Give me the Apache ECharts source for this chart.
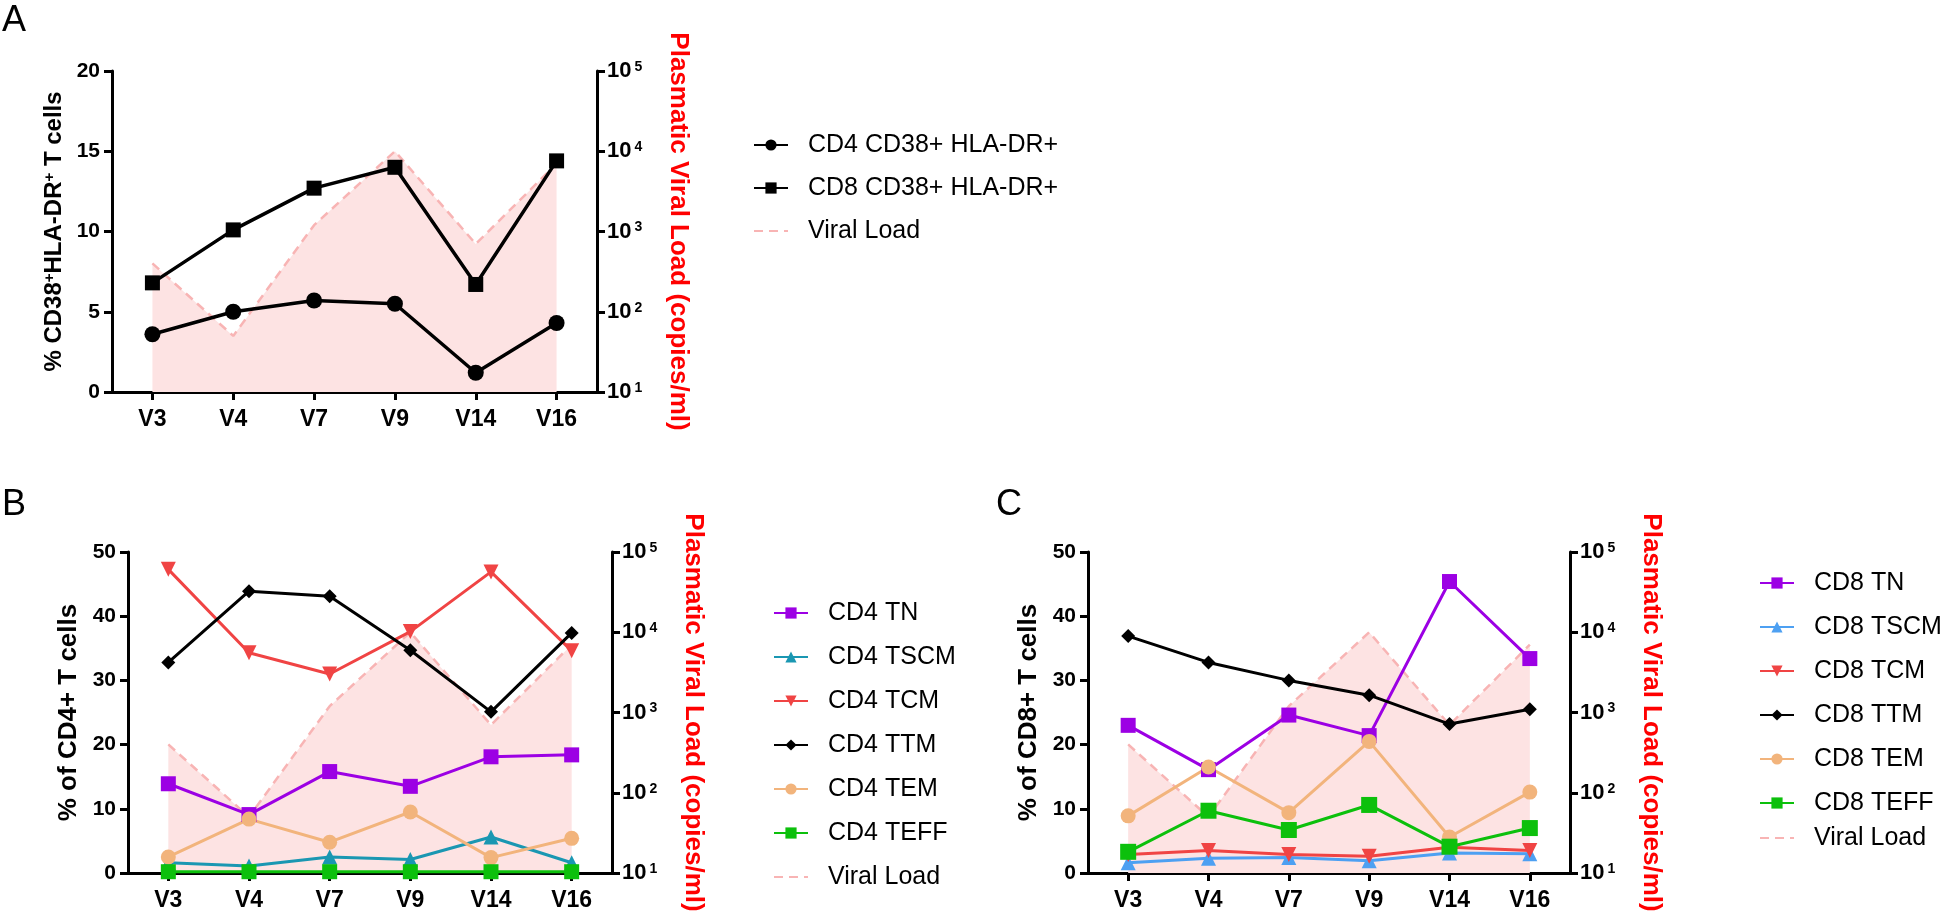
<!DOCTYPE html>
<html><head><meta charset="utf-8">
<script src="https://cdn.jsdelivr.net/npm/echarts@6/dist/echarts.min.js"></script>
<style>html,body{margin:0;padding:0;background:#fff}#c{width:1946px;height:915px}</style>
</head><body><div id="c"></div>
<script>
// ---- data ----
const visits = ['V3', 'V4', 'V7', 'V9', 'V14', 'V16'];
const viralLoad = [400, 50, 1200, 10000, 700, 7000];
const cd4Act = [3.6, 5.0, 5.7, 5.5, 1.2, 4.3];
const cd8Act = [6.8, 10.1, 12.7, 14.0, 6.7, 14.4];
const cd4TN = [13.9, 9.1, 15.8, 13.5, 18.1, 18.4];
const cd4TSCM = [1.6, 1.1, 2.5, 2.1, 5.6, 1.6];
const cd4TCM = [47.3, 34.3, 31.0, 37.6, 46.9, 34.6];
const cd4TTM = [32.8, 43.9, 43.1, 34.7, 25.1, 37.4];
const cd4TEM = [2.5, 8.4, 4.8, 9.5, 2.4, 5.4];
const cd4TEFF = [0.2, 0.2, 0.2, 0.2, 0.2, 0.2];
const cd8TN = [23.0, 16.1, 24.6, 21.4, 45.4, 33.4];
const cd8TSCM = [1.6, 2.3, 2.4, 1.9, 3.1, 3.0];
const cd8TCM = [2.9, 3.5, 2.9, 2.6, 4.0, 3.5];
const cd8TTM = [36.9, 32.8, 30.0, 27.7, 23.2, 25.5];
const cd8TEM = [8.9, 16.5, 9.4, 20.5, 5.6, 12.6];
const cd8TEFF = [3.3, 9.7, 6.7, 10.6, 4.1, 7.0];

const FONT = 'Liberation Sans, Arial, sans-serif';
const C = {
  TN: '#9C00E4', TSCM4: '#1A97B2', TSCM8: '#4DA0F2', TCM: '#F04444',
  TTM: '#000000', TEM: '#F2B47C', TEFF: '#0CC00C', VL: '#F8B4B4', VLfill: '#FDE3E3'
};
const DOWN_TRI = 'path://M0,0 L10,0 L5,8.66 Z';

const chart = echarts.init(document.getElementById('c'), null, {renderer: 'canvas'});

function xAxis(gi) {
  return {
    type: 'category', gridIndex: gi, data: visits, boundaryGap: true,
    axisLine: {show: true, lineStyle: {color: '#000', width: 3}},
    axisTick: {show: true, alignWithLabel: true, length: 8, lineStyle: {color: '#000', width: 3}},
    axisLabel: {color: '#000', fontSize: 23, fontWeight: 'bold', fontFamily: FONT, margin: 16},
    splitLine: {show: false}
  };
}
function yLeft(gi, max, interval, name, rich) {
  return {
    type: 'value', gridIndex: gi, min: 0, max: max, interval: interval, position: 'left',
    name: name, nameLocation: 'middle', nameGap: 46,
    nameTextStyle: {color: '#000', fontSize: 26, fontWeight: 'bold', fontFamily: FONT, rich: rich},
    axisLine: {show: true, lineStyle: {color: '#000', width: 3}},
    axisTick: {show: true, length: 8, lineStyle: {color: '#000', width: 3}},
    axisLabel: {color: '#000', fontSize: 21, fontWeight: 'bold', fontFamily: FONT, margin: 12},
    splitLine: {show: false}
  };
}
function yRight(gi) {
  return {
    type: 'log', logBase: 10, gridIndex: gi, min: 10, max: 100000, position: 'right',
    name: 'Plasmatic Viral Load (copies/ml)', nameLocation: 'middle', nameGap: 68, nameRotate: -90,
    nameTextStyle: {color: '#FF0000', fontSize: 26, fontWeight: 'bold', fontFamily: FONT},
    axisLine: {show: true, lineStyle: {color: '#000', width: 3}},
    axisTick: {show: true, length: 8, lineStyle: {color: '#000', width: 3}},
    minorTick: {show: false},
    axisLabel: {
      margin: 10,
      formatter: v => '{b|10}{s|' + Math.round(Math.log10(v)) + '}',
      rich: {
        b: {fontSize: 22, fontWeight: 'bold', color: '#000', fontFamily: FONT},
        s: {fontSize: 14, fontWeight: 'bold', color: '#000', fontFamily: FONT, verticalAlign: 'top', padding: [0, 0, 0, 3]}
      }
    },
    splitLine: {show: false}
  };
}
function vlSeries(xi, yi) {
  return {
    name: 'Viral Load', type: 'line', xAxisIndex: xi, yAxisIndex: yi, data: viralLoad,
    symbol: 'none', z: 1,
    lineStyle: {color: C.VL, width: 2.5, type: [9, 6]},
    itemStyle: {color: C.VL},
    areaStyle: {color: C.VLfill, opacity: 1, origin: 'start'},
    emphasis: {disabled: true}
  };
}
function lineSeries(name, data, xi, yi, color, symbol, size, width) {
  return {
    name: name, type: 'line', xAxisIndex: xi, yAxisIndex: yi, data: data,
    symbol: symbol, symbolSize: size, showAllSymbol: true, z: 3,
    lineStyle: {color: color, width: width || 3},
    itemStyle: {color: color, opacity: 1},
    emphasis: {disabled: true}
  };
}
const legendText = {color: '#000', fontSize: 25, fontFamily: FONT, lineHeight: 30, padding: [0, 0, 0, 15]};
const vlLegendItem = {name: 'Viral Load', itemStyle: {opacity: 0}};
function legend(left, top, gap, data) {
  return {
    orient: 'vertical', left: left, top: top, itemGap: gap, itemWidth: 34, itemHeight: 14,
    selectedMode: false, data: data, textStyle: legendText, padding: 0
  };
}

const option = {
  backgroundColor: '#fff',
  animation: false,
  grid: [
    {left: 112, top: 71, width: 485, height: 321},
    {left: 128, top: 552, width: 484, height: 321},
    {left: 1088, top: 552, width: 482, height: 321}
  ],
  xAxis: [xAxis(0), xAxis(1), xAxis(2)],
  yAxis: [
    yLeft(0, 20, 5, '{a|% CD38}{s|+}{a|HLA-DR}{s|+}{a| T cells}', {
      a: {fontSize: 24, fontWeight: 'bold', color: '#000', fontFamily: FONT},
      s: {fontSize: 15, fontWeight: 'bold', color: '#000', fontFamily: FONT, verticalAlign: 'top'}
    }),
    yRight(0),
    yLeft(1, 50, 10, '% of CD4+ T cells'),
    yRight(1),
    yLeft(2, 50, 10, '% of CD8+ T cells'),
    yRight(2)
  ],
  legend: [
    legend(753, 130, 13, ['CD4 CD38+ HLA-DR+', 'CD8 CD38+ HLA-DR+', vlLegendItem]),
    legend(773, 598, 14, ['CD4 TN', 'CD4 TSCM', 'CD4 TCM', 'CD4 TTM', 'CD4 TEM', 'CD4 TEFF', vlLegendItem]),
    legend(1759, 568, 14, ['CD8 TN', 'CD8 TSCM', 'CD8 TCM', 'CD8 TTM', 'CD8 TEM', 'CD8 TEFF']),
    legend(1759, 823, 14, [vlLegendItem])
  ],
  graphic: [
    {type: 'text', left: 2, top: 3, style: {text: 'A', font: '36px ' + FONT, fill: '#000'}},
    {type: 'text', left: 2, top: 487, style: {text: 'B', font: '36px ' + FONT, fill: '#000'}},
    {type: 'text', left: 996, top: 487, style: {text: 'C', font: '36px ' + FONT, fill: '#000'}}
  ],
  series: [
    vlSeries(0, 1),
    lineSeries('CD4 CD38+ HLA-DR+', cd4Act, 0, 0, '#000', 'circle', 16, 3.5),
    lineSeries('CD8 CD38+ HLA-DR+', cd8Act, 0, 0, '#000', 'rect', 15, 3.5),
    vlSeries(1, 3),
    lineSeries('CD4 TN', cd4TN, 1, 2, C.TN, 'rect', 15),
    lineSeries('CD4 TSCM', cd4TSCM, 1, 2, C.TSCM4, 'triangle', 15),
    lineSeries('CD4 TCM', cd4TCM, 1, 2, C.TCM, DOWN_TRI, 15),
    lineSeries('CD4 TTM', cd4TTM, 1, 2, C.TTM, 'diamond', 14),
    lineSeries('CD4 TEM', cd4TEM, 1, 2, C.TEM, 'circle', 15),
    lineSeries('CD4 TEFF', cd4TEFF, 1, 2, C.TEFF, 'rect', 15),
    vlSeries(2, 5),
    lineSeries('CD8 TN', cd8TN, 2, 4, C.TN, 'rect', 15),
    lineSeries('CD8 TSCM', cd8TSCM, 2, 4, C.TSCM8, 'triangle', 15),
    lineSeries('CD8 TCM', cd8TCM, 2, 4, C.TCM, DOWN_TRI, 15),
    lineSeries('CD8 TTM', cd8TTM, 2, 4, C.TTM, 'diamond', 14),
    lineSeries('CD8 TEM', cd8TEM, 2, 4, C.TEM, 'circle', 15),
    lineSeries('CD8 TEFF', cd8TEFF, 2, 4, C.TEFF, 'rect', 16)
  ]
};
chart.setOption(option);
</script>
</body></html>
